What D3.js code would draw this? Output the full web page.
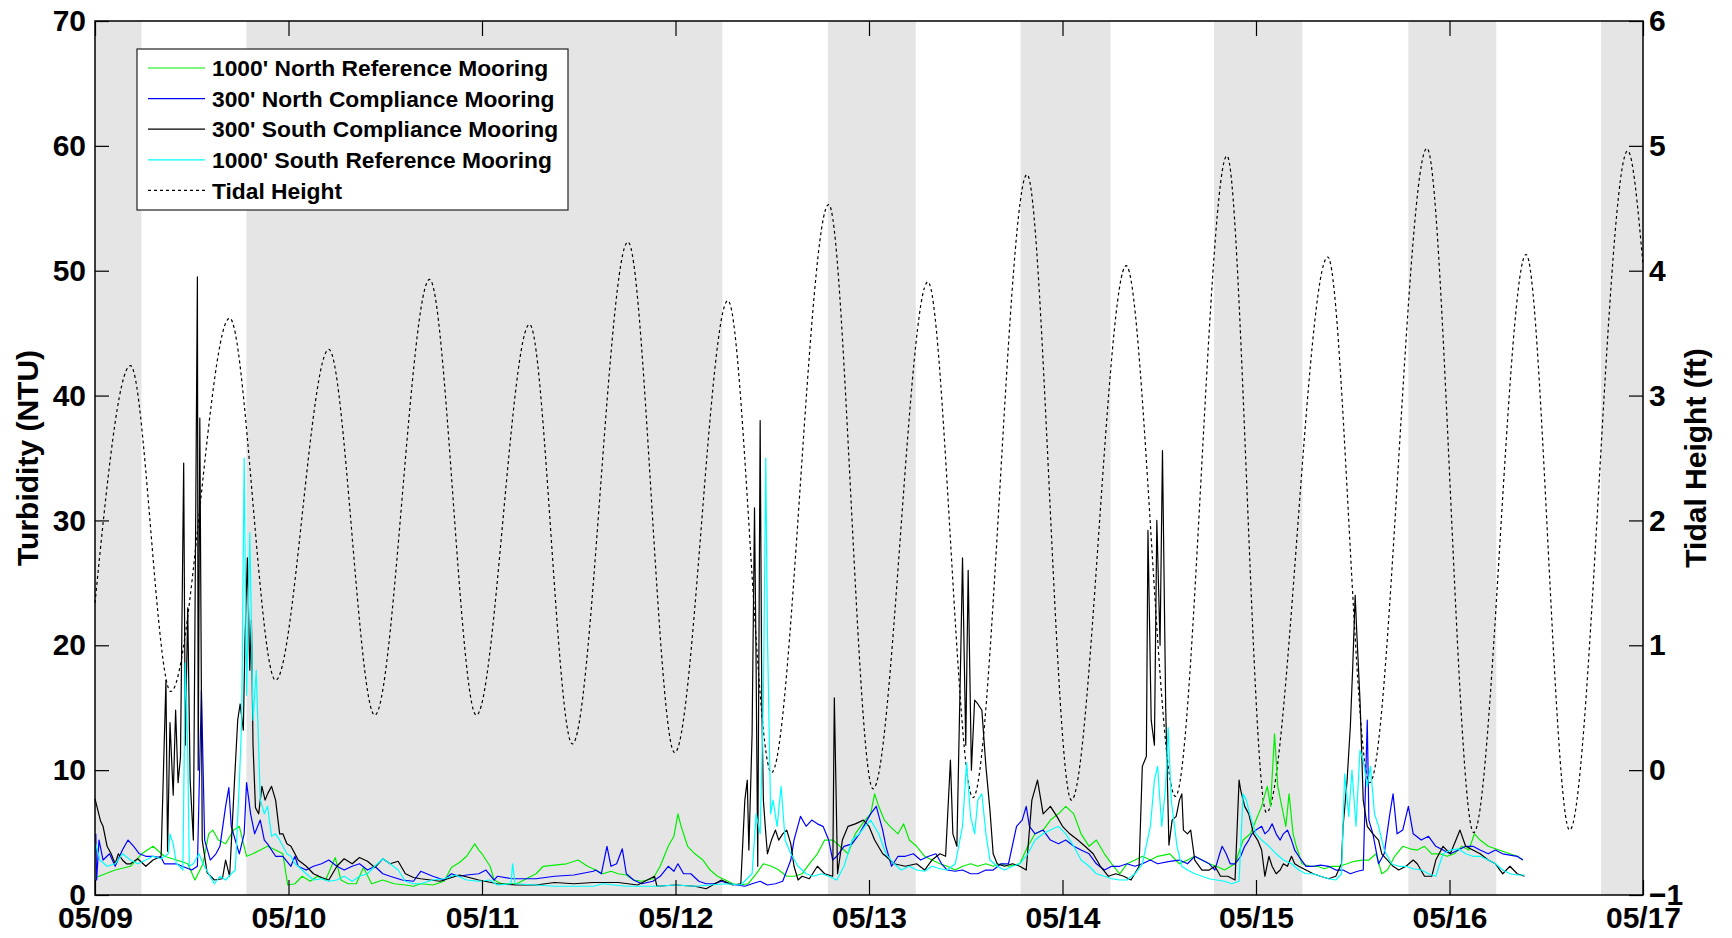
<!DOCTYPE html>
<html>
<head>
<meta charset="utf-8">
<script src="https://cdn.jsdelivr.net/npm/d3@7"></script>
<style>
body { margin: 0; background: #fff; }
text { font-family: "Liberation Sans", Arial, sans-serif; font-weight: bold; fill: #000; }
.tickLabel text { font-size: 30px; }
.axisTitle { font-size: 30px; }
.legendText { font-size: 22.8px; }
</style>
</head>
<body>
<div id="chart" style="width:1732px;height:938px"></div>
<script>
// hours since 05/09 00:00, turbidity in NTU
var seriesNames = ["1000' North Reference Mooring", "300' North Compliance Mooring",
    "300' South Compliance Mooring", "1000' South Reference Mooring"];
var seriesColors = ["#00ee00", "#0000ff", "#000000", "#00ffff"];

var northReference = [[0.1,1.4],[2.5,2.0],[4.4,2.3],[5.8,3.3],[7.2,3.9],[8.6,3.1],[10.1,2.8],[11.5,2.5],[12.4,1.2],[13.4,2.5],[14.1,4.9],[14.6,5.2],[15.3,4.4],[16.2,4.1],[17.2,5.2],[17.9,5.5],[18.8,3.1],[19.6,3.3],[20.5,3.6],[21.4,3.9],[22.4,3.6],[23.3,3.3],[23.9,0.8],[24.8,0.9],[25.7,1.5],[26.7,1.1],[27.6,1.5],[28.6,1.2],[29.8,3.0],[30.5,1.2],[31.4,0.9],[32.4,0.9],[33.3,2.2],[34.3,0.9],[35.7,1.2],[37.1,0.9],[38.5,0.8],[39.5,0.7],[40.4,0.9],[41.9,0.8],[43.3,1.1],[44.2,2.2],[45.2,2.6],[46.1,3.1],[47.1,4.1],[47.6,3.6],[48.0,3.3],[49.0,2.3],[49.5,1.2],[50.4,0.9],[52.3,0.9],[54.7,1.7],[55.6,2.3],[57.0,2.4],[58.5,2.5],[59.9,2.8],[61.1,2.3],[62.1,2.0],[63.0,1.7],[64.0,1.9],[64.9,1.7],[65.9,1.6],[66.8,1.2],[67.8,1.1],[69.2,1.3],[70.1,2.3],[71.1,3.9],[71.8,4.7],[72.3,6.5],[72.7,5.5],[73.5,3.9],[74.4,3.3],[75.4,2.8],[76.3,2.0],[77.2,1.5],[78.2,1.2],[79.1,0.9],[80.1,0.8],[81.0,0.9],[82.0,1.7],[82.9,2.5],[83.9,2.3],[84.8,2.0],[85.8,1.5],[86.7,1.5],[87.7,1.7],[88.6,2.5],[89.6,3.3],[90.5,4.4],[91.5,4.4],[92.4,3.9],[93.4,3.3],[94.3,4.9],[95.5,6.0],[96.2,6.5],[96.7,8.1],[97.2,7.1],[97.9,6.0],[98.6,5.5],[99.6,4.9],[100.3,5.7],[101.0,4.4],[101.9,3.9],[102.9,3.1],[103.8,2.8],[104.8,2.5],[105.7,2.3],[106.7,2.0],[107.6,2.3],[108.6,2.5],[109.5,2.3],[110.5,2.5],[111.4,2.3],[112.4,2.5],[113.3,2.3],[114.7,2.5],[115.7,3.9],[116.6,4.9],[117.6,5.2],[118.5,6.0],[119.5,6.5],[120.4,7.1],[121.4,6.5],[122.3,4.9],[123.3,3.9],[124.2,4.4],[125.2,3.3],[126.1,2.5],[127.1,1.7],[128.0,2.5],[129.0,2.8],[129.9,3.1],[130.9,2.8],[131.8,3.1],[133.3,3.3],[134.5,2.5],[135.5,2.8],[136.4,3.1],[137.3,2.8],[138.2,2.5],[139.1,2.3],[140.1,2.0],[141.4,2.5],[142.4,4.4],[143.3,4.9],[144.2,6.3],[144.7,7.1],[145.4,8.7],[145.8,7.1],[146.3,12.9],[146.7,8.7],[147.2,7.1],[147.7,5.5],[148.1,8.1],[148.6,4.9],[149.0,3.9],[149.7,2.5],[150.7,2.3],[151.6,2.3],[152.5,2.1],[153.4,2.3],[154.3,2.3],[155.3,2.5],[156.2,2.7],[157.1,2.8],[158.0,2.8],[158.9,3.3],[159.6,1.7],[160.3,2.0],[161.2,3.1],[162.2,3.9],[163.1,3.7],[164.0,3.6],[164.9,3.9],[165.8,3.3],[166.8,3.3],[167.7,3.1],[168.6,3.3],[169.5,3.9],[170.4,3.6],[171.1,4.9],[171.8,4.4],[172.8,3.9],[173.7,3.7],[174.6,3.5],[175.5,3.3],[176.4,3.1],[177.1,2.8]];

var northCompliance = [[0.1,4.9],[0.2,1.2],[0.5,4.4],[1.0,2.8],[1.8,3.3],[2.5,2.3],[3.4,3.6],[4.1,4.4],[4.8,3.9],[5.5,3.3],[6.3,3.1],[7.2,3.1],[8.2,3.0],[8.6,2.5],[10.1,2.5],[10.8,2.3],[12.0,2.0],[12.7,2.3],[13.2,16.4],[13.6,4.4],[14.3,2.8],[15.0,3.3],[15.5,3.9],[16.2,7.1],[16.6,8.6],[16.9,5.5],[17.4,4.4],[17.9,3.3],[18.5,4.9],[18.8,9.0],[19.3,6.5],[19.8,4.9],[20.5,6.0],[21.0,4.4],[21.4,4.1],[22.4,3.1],[23.3,3.1],[24.3,2.3],[24.8,3.1],[25.2,2.3],[26.2,2.0],[27.1,2.3],[28.1,2.5],[29.0,2.8],[30.0,2.3],[30.9,2.0],[31.9,2.3],[32.8,2.5],[33.8,2.0],[34.7,2.3],[35.7,1.7],[36.6,1.5],[38.1,1.2],[39.5,1.1],[40.4,1.9],[41.9,1.5],[43.3,1.2],[44.2,1.7],[45.2,1.5],[46.1,1.6],[47.6,1.7],[48.5,2.0],[49.5,1.2],[49.9,1.5],[51.8,1.3],[54.7,1.3],[57.0,1.5],[59.4,1.6],[61.8,1.9],[62.1,2.0],[62.8,1.7],[63.5,3.9],[64.0,2.3],[64.7,2.5],[65.4,3.7],[65.9,1.7],[66.8,1.2],[67.8,0.9],[69.2,1.1],[70.1,1.5],[71.1,2.3],[71.8,1.9],[72.3,2.5],[73.0,1.7],[73.9,1.7],[74.9,1.1],[75.8,0.9],[76.8,0.9],[77.7,1.1],[78.7,0.9],[79.6,0.8],[80.6,0.7],[81.5,0.9],[82.5,1.1],[83.4,0.8],[84.4,0.9],[85.3,1.1],[86.3,2.8],[86.7,4.4],[87.5,6.3],[88.2,5.5],[88.9,6.0],[89.6,5.7],[90.3,5.5],[91.0,4.4],[91.5,2.8],[92.0,3.1],[92.9,3.9],[93.9,4.1],[94.8,4.9],[95.5,5.7],[96.2,6.5],[96.9,7.1],[97.7,5.2],[98.1,3.9],[98.8,2.3],[99.6,3.1],[100.5,3.1],[101.5,3.3],[102.4,2.8],[103.4,3.1],[104.3,3.3],[105.0,2.5],[105.7,2.0],[106.7,1.9],[107.6,2.0],[108.6,1.7],[109.5,1.7],[110.5,2.0],[111.4,2.0],[112.4,2.5],[113.3,2.5],[114.3,5.5],[115.0,6.0],[115.5,7.1],[115.9,5.5],[116.6,4.9],[117.6,5.2],[118.5,4.4],[119.5,4.1],[120.4,4.4],[121.4,3.9],[122.3,3.6],[123.3,3.3],[124.2,2.5],[125.2,2.0],[126.1,2.3],[127.1,2.3],[128.0,2.5],[129.0,2.3],[129.9,2.5],[130.9,2.8],[131.8,2.5],[133.3,2.7],[134.5,2.8],[135.5,2.5],[136.4,3.1],[137.3,2.8],[138.2,2.5],[138.9,2.0],[139.4,3.1],[139.8,3.9],[140.3,3.3],[140.8,2.5],[141.4,2.5],[142.1,3.1],[142.6,3.9],[143.1,4.4],[143.5,4.9],[144.0,5.2],[144.7,5.5],[145.1,4.9],[145.6,5.2],[146.0,5.7],[146.5,4.9],[147.0,4.4],[147.4,4.9],[147.9,5.2],[148.4,4.4],[148.8,3.6],[149.3,3.1],[150.2,2.3],[151.1,2.3],[152.0,2.4],[153.0,2.3],[153.9,2.0],[154.8,2.0],[155.7,1.7],[156.6,1.9],[157.3,2.0],[157.8,14.0],[158.0,6.0],[158.5,4.9],[159.2,2.5],[159.9,3.3],[160.6,6.5],[161.0,8.1],[161.5,4.9],[162.2,5.2],[162.9,7.1],[163.5,4.9],[164.5,4.4],[165.4,4.7],[166.3,3.9],[167.2,3.6],[168.1,3.3],[169.1,3.6],[170.0,3.9],[170.9,3.9],[171.8,3.6],[172.8,3.3],[173.7,3.6],[174.6,3.3],[175.5,3.2],[176.4,3.1],[177.1,2.8]];

var southCompliance = [[0.0,7.7],[0.7,5.9],[1.0,5.5],[1.5,3.9],[2.0,3.3],[2.5,2.5],[2.9,3.3],[3.4,2.8],[3.9,2.5],[4.4,2.5],[5.3,2.9],[6.3,2.3],[7.2,2.8],[8.2,3.1],[8.8,17.2],[9.0,3.5],[9.3,13.8],[9.7,8.0],[10.0,14.8],[10.3,9.0],[10.6,11.0],[11.0,34.6],[11.2,12.0],[11.5,23.0],[11.8,9.2],[12.2,4.4],[12.4,22.0],[12.7,49.5],[12.8,10.0],[13.0,38.2],[13.3,4.4],[13.9,1.8],[14.8,1.2],[15.8,1.3],[16.2,2.8],[16.7,1.5],[17.3,9.1],[17.7,14.0],[18.0,15.3],[18.4,13.2],[18.6,20.4],[18.9,27.0],[19.2,18.0],[19.4,22.0],[19.6,12.0],[19.9,7.0],[20.3,6.5],[20.7,8.7],[21.1,7.6],[21.4,8.1],[21.9,8.7],[22.4,7.6],[22.9,4.9],[23.3,4.9],[23.8,4.1],[24.3,3.9],[24.8,3.3],[25.2,2.8],[26.2,2.3],[27.1,1.7],[28.1,1.4],[29.0,1.2],[30.0,2.3],[30.9,2.9],[31.9,2.5],[32.8,3.0],[33.8,2.7],[34.7,2.2],[35.7,2.9],[36.6,2.5],[37.6,2.7],[38.5,1.7],[39.5,1.4],[40.4,1.3],[42.8,1.1],[45.2,1.6],[47.6,1.2],[49.9,0.9],[52.3,0.8],[54.7,0.8],[57.0,1.0],[59.4,0.9],[61.8,1.0],[64.9,1.0],[67.3,0.8],[69.4,1.5],[69.7,0.7],[72.0,0.8],[74.4,0.7],[75.8,0.5],[77.7,1.2],[79.1,0.8],[80.1,0.9],[80.6,7.6],[80.9,9.2],[81.1,3.6],[81.5,12.9],[81.8,31.0],[82.0,18.3],[82.2,2.3],[82.5,38.0],[82.7,15.6],[82.9,7.6],[83.2,4.9],[83.4,3.3],[83.9,4.4],[84.4,5.2],[84.8,4.4],[85.3,4.9],[85.8,5.2],[86.3,4.1],[86.7,2.3],[87.2,1.2],[87.7,1.5],[88.6,1.3],[89.6,2.3],[90.5,1.7],[91.5,1.5],[91.7,15.8],[92.1,1.7],[92.7,4.4],[93.4,5.5],[94.3,5.7],[95.3,6.0],[96.0,5.5],[96.7,4.4],[97.7,3.3],[98.1,3.1],[99.1,2.5],[100.5,2.3],[101.9,2.5],[102.9,2.0],[103.8,2.8],[104.8,3.3],[105.5,3.1],[106.1,10.8],[106.4,4.9],[106.9,3.9],[107.4,20.0],[107.6,27.0],[108.0,12.0],[108.3,26.0],[108.7,10.0],[109.1,15.6],[109.5,15.3],[110.0,14.8],[110.5,10.3],[111.0,6.8],[111.4,3.3],[111.9,2.5],[112.8,2.3],[113.8,2.5],[114.7,2.3],[115.5,2.0],[116.2,7.6],[116.9,9.2],[117.6,6.5],[118.5,7.1],[119.3,6.3],[120.0,5.5],[120.9,4.9],[121.9,4.4],[122.8,3.9],[123.8,3.3],[124.7,2.3],[125.7,1.5],[126.6,1.7],[127.6,1.5],[128.5,1.2],[129.5,2.3],[129.9,10.3],[130.4,11.1],[130.6,29.2],[131.0,14.0],[131.4,12.0],[131.7,30.0],[132.1,20.0],[132.4,35.6],[132.8,15.0],[133.2,4.0],[133.6,6.0],[134.1,6.3],[134.5,7.6],[134.8,8.1],[135.0,5.2],[135.5,4.9],[135.9,5.2],[136.4,2.8],[137.3,2.0],[138.2,2.0],[138.9,2.3],[139.6,1.5],[140.5,1.5],[141.4,1.2],[141.9,9.2],[142.1,8.4],[142.6,7.1],[143.1,6.5],[143.7,4.9],[144.2,4.4],[144.7,3.6],[145.1,1.5],[145.6,3.1],[146.0,2.3],[146.5,1.7],[147.0,2.0],[147.4,2.5],[147.9,2.3],[148.4,3.1],[148.8,2.5],[149.3,2.3],[150.2,2.0],[151.1,1.7],[152.0,1.5],[153.0,1.3],[153.9,1.5],[154.6,2.5],[154.8,5.5],[155.3,9.2],[155.7,13.5],[156.0,18.3],[156.3,24.0],[156.5,21.0],[156.9,15.6],[157.3,7.6],[157.8,5.5],[158.5,4.9],[159.2,4.4],[159.6,3.3],[160.3,2.8],[161.0,2.3],[161.7,2.0],[162.6,2.3],[163.5,2.8],[164.0,2.5],[164.9,1.5],[165.8,1.5],[166.3,2.8],[167.2,3.9],[168.1,3.3],[168.8,4.4],[169.3,5.2],[170.0,3.9],[170.9,3.6],[171.8,3.3],[172.8,2.8],[173.7,2.5],[174.6,1.7],[175.5,2.3],[176.4,1.7],[177.3,1.5]];

var southReference = [[0.1,4.1],[0.6,2.8],[1.5,2.3],[2.5,2.5],[3.4,3.3],[4.4,2.8],[5.3,2.5],[6.3,2.8],[7.2,3.1],[8.2,2.9],[9.1,3.3],[9.3,4.9],[9.7,4.1],[10.1,2.5],[10.5,2.3],[10.9,2.0],[11.2,18.6],[11.5,11.6],[11.7,2.3],[12.2,2.5],[12.9,3.3],[13.4,2.5],[14.1,1.7],[14.8,0.9],[15.5,1.5],[16.2,1.2],[16.9,1.7],[17.4,2.0],[17.9,9.0],[18.2,14.0],[18.5,35.0],[18.8,16.0],[19.2,29.0],[19.6,14.0],[20.0,18.0],[20.5,7.6],[21.0,6.5],[21.4,7.1],[21.9,4.7],[22.4,4.9],[22.9,4.4],[23.3,3.9],[23.8,3.3],[24.3,3.1],[24.8,2.5],[25.2,2.3],[26.2,1.7],[27.1,1.2],[28.1,1.3],[29.0,1.1],[30.0,1.2],[30.9,1.5],[31.9,1.1],[32.8,1.5],[33.8,1.7],[34.7,2.3],[35.7,2.9],[36.6,2.5],[37.6,2.0],[38.5,1.1],[39.5,0.9],[40.4,0.9],[41.9,1.2],[43.3,1.3],[44.7,1.6],[46.1,1.2],[47.6,1.1],[49.0,1.2],[49.9,0.8],[51.6,0.9],[51.8,2.5],[52.1,0.9],[54.7,0.8],[57.0,0.7],[59.4,0.7],[61.8,0.7],[63.0,0.9],[64.4,0.8],[65.9,0.7],[69.7,0.7],[72.0,0.8],[74.4,0.7],[76.3,0.8],[78.2,0.9],[80.1,0.8],[81.5,1.7],[82.0,6.5],[82.5,4.9],[82.9,15.6],[83.2,35.0],[83.4,21.0],[83.8,6.5],[84.1,7.6],[84.6,5.5],[85.1,8.7],[85.6,4.4],[86.3,3.3],[87.2,2.3],[88.2,1.7],[89.1,1.5],[90.1,1.7],[91.0,1.5],[92.0,1.2],[92.9,2.3],[93.9,4.4],[94.8,4.9],[95.5,5.5],[96.2,6.0],[97.2,4.9],[98.1,3.3],[99.1,2.5],[100.0,2.0],[101.0,2.3],[101.9,2.0],[102.9,1.9],[103.8,2.3],[104.8,2.1],[105.7,2.0],[106.7,2.5],[107.6,5.5],[108.1,10.6],[108.6,6.3],[109.1,4.9],[109.5,7.6],[110.0,8.1],[110.5,4.9],[111.0,2.8],[111.9,2.3],[112.8,2.0],[113.8,2.3],[114.7,2.5],[115.7,3.3],[116.6,4.4],[117.6,4.9],[118.5,5.2],[119.5,5.5],[120.4,4.9],[121.4,3.9],[122.3,2.8],[123.3,2.3],[124.2,1.7],[125.2,1.5],[126.1,1.3],[127.1,1.2],[128.0,1.2],[129.0,1.7],[129.9,2.5],[130.9,5.5],[131.4,9.2],[131.8,10.3],[132.3,5.5],[132.8,8.7],[133.1,13.4],[133.5,7.5],[133.8,6.0],[134.2,3.9],[134.8,2.3],[135.5,2.0],[136.4,1.7],[137.3,1.5],[138.2,1.3],[139.1,1.2],[140.1,1.1],[141.0,0.9],[141.9,1.1],[142.4,8.1],[142.8,7.6],[143.3,6.3],[144.0,4.9],[144.7,4.4],[145.6,3.9],[146.5,3.3],[147.4,2.8],[148.4,2.5],[149.3,2.0],[150.2,1.7],[151.1,1.7],[152.0,1.5],[153.0,1.3],[153.9,1.2],[154.6,1.7],[155.0,9.7],[155.5,6.3],[155.9,10.0],[156.4,5.5],[156.9,11.6],[157.3,10.8],[157.8,8.7],[158.2,10.3],[158.7,6.5],[159.2,5.5],[159.9,3.6],[160.8,2.5],[161.7,2.3],[162.6,2.3],[163.5,2.1],[164.5,2.0],[165.4,1.7],[166.3,1.5],[167.2,3.3],[168.1,3.6],[169.1,3.7],[170.0,3.3],[170.9,3.1],[171.8,3.1],[172.8,2.8],[173.7,2.5],[174.6,2.0],[175.5,1.7],[176.4,1.6],[177.3,1.6]];

// tidal height (ft) at highs and lows
var tidalHeight = [[0,1.34],[4.4,3.24],[9.4,0.63],[16.7,3.62],[22.4,0.72],[29.0,3.37],[34.7,0.44],[41.5,3.93],[47.3,0.44],[53.9,3.57],[59.2,0.21],[66.1,4.23],[71.9,0.14],[78.5,3.76],[83.9,-0.02],[91.0,4.53],[96.5,-0.15],[103.3,3.91],[108.9,-0.22],[115.6,4.77],[121.1,-0.24],[127.9,4.04],[134.0,-0.21],[140.4,4.92],[145.3,-0.34],[152.9,4.11],[158.1,-0.10],[165.2,4.98],[171.0,-0.50],[177.5,4.13],[182.9,-0.48],[190.1,4.96],[192,4.05]];

// night periods (grey)
var nightBands = [[0,5.76],[18.78,77.8],[90.9,101.8],[114.8,125.95],[138.8,149.75],[162.9,173.8],[186.8,192]];

var turbidityTicks = [0, 10, 20, 30, 40, 50, 60, 70];
var tideTicks = [-1, 0, 1, 2, 3, 4, 5, 6];
var dayLabels = ["05/09", "05/10", "05/11", "05/12", "05/13", "05/14", "05/15", "05/16", "05/17"];

var width = 1732, height = 938;
var margin = {top: 21, right: 89, bottom: 43, left: 95};
var plotW = width - margin.left - margin.right;
var plotH = height - margin.top - margin.bottom;

var svg = d3.select('#chart').append('svg')
    .attr('width', width)
    .attr('height', height);

var g = svg.append('g')
    .attr('transform', 'translate(' + margin.left + ',' + margin.top + ')');

var x = d3.scaleLinear().domain([0, 192]).range([0, plotW]);
var yLeft = d3.scaleLinear().domain([0, 70]).range([plotH, 0]);
var yRight = d3.scaleLinear().domain([-1, 6]).range([plotH, 0]);

g.selectAll('rect.night')
    .data(nightBands)
    .enter()
    .append('rect')
    .attr('class', 'night')
    .attr('x', function (d) { return x(d[0]); })
    .attr('y', 0)
    .attr('width', function (d) { return x(d[1]) - x(d[0]); })
    .attr('height', plotH)
    .attr('fill', '#e5e5e5');

var tideLine = d3.line()
    .x(function (d) { return x(d[0]); })
    .y(function (d) { return yRight(d[1]); })
    .curve(d3.curveMonotoneX);

g.append('path')
    .datum(tidalHeight)
    .attr('fill', 'none')
    .attr('stroke', '#000')
    .attr('stroke-width', 1.2)
    .attr('stroke-dasharray', '3,3')
    .attr('d', tideLine);

var turbLine = d3.line()
    .x(function (d) { return x(d[0]); })
    .y(function (d) { return yLeft(d[1]); });

var allSeries = [northReference, northCompliance, southCompliance, southReference];
g.selectAll('path.turb')
    .data(allSeries)
    .enter()
    .append('path')
    .attr('class', 'turb')
    .attr('fill', 'none')
    .attr('stroke', function (d, i) { return seriesColors[i]; })
    .attr('stroke-width', 1.2)
    .attr('stroke-linejoin', 'round')
    .attr('d', turbLine);

// axes, ticks pointing inside like the original
var dayTicks = dayLabels.map(function (d, i) { return i * 24; });

g.append('g')
    .attr('class', 'tickLabel')
    .attr('transform', 'translate(0,' + plotH + ')')
    .call(d3.axisBottom(x).tickValues(dayTicks).tickSize(-15).tickSizeOuter(0).tickPadding(12)
        .tickFormat(function (d, i) { return dayLabels[i]; }));

g.append('g')
    .call(d3.axisTop(x).tickValues(dayTicks).tickSize(-15).tickSizeOuter(0).tickFormat(''));

g.append('g')
    .attr('class', 'tickLabel')
    .call(d3.axisLeft(yLeft).tickValues(turbidityTicks).tickSize(-14).tickSizeOuter(0).tickPadding(9)
        .tickFormat(d3.format('d')));

g.append('g')
    .attr('class', 'tickLabel')
    .attr('transform', 'translate(' + plotW + ',0)')
    .call(d3.axisRight(yRight).tickValues(tideTicks).tickSize(-14).tickSizeOuter(0).tickPadding(6)
        .tickFormat(d3.format('d')));

g.selectAll('.domain').remove();
g.selectAll('.tick line').attr('stroke', '#000').attr('stroke-width', 1.2);
g.selectAll('.tick text').attr('fill', '#000');

g.append('rect')
    .attr('x', 0)
    .attr('y', 0)
    .attr('width', plotW)
    .attr('height', plotH)
    .attr('fill', 'none')
    .attr('stroke', '#000')
    .attr('stroke-width', 1.5);

svg.append('text')
    .attr('class', 'axisTitle')
    .attr('transform', 'translate(38,' + (margin.top + plotH / 2) + ') rotate(-90)')
    .attr('text-anchor', 'middle')
    .text('Turbidity (NTU)');

svg.append('text')
    .attr('class', 'axisTitle')
    .attr('transform', 'translate(1706,' + (margin.top + plotH / 2) + ') rotate(-90)')
    .attr('text-anchor', 'middle')
    .text('Tidal Height (ft)');

// legend
var legendNames = seriesNames.concat(['Tidal Height']);
var legend = svg.append('g').attr('transform', 'translate(137,49)');
legend.append('rect')
    .attr('width', 431)
    .attr('height', 161)
    .attr('fill', '#fff')
    .attr('stroke', '#222')
    .attr('stroke-width', 1.2);

var rows = legend.selectAll('g.row')
    .data(legendNames)
    .enter()
    .append('g')
    .attr('class', 'row')
    .attr('transform', function (d, i) { return 'translate(0,' + (19 + i * 30.6) + ')'; });

rows.append('line')
    .attr('x1', 11)
    .attr('x2', 68)
    .attr('stroke', function (d, i) { return i < 4 ? seriesColors[i] : '#000'; })
    .attr('stroke-width', 1.2)
    .attr('stroke-dasharray', function (d, i) { return i < 4 ? null : '3,3'; });

rows.append('text')
    .attr('class', 'legendText')
    .attr('x', 75)
    .attr('dy', '0.36em')
    .text(function (d) { return d; });
</script>
</body>
</html>
